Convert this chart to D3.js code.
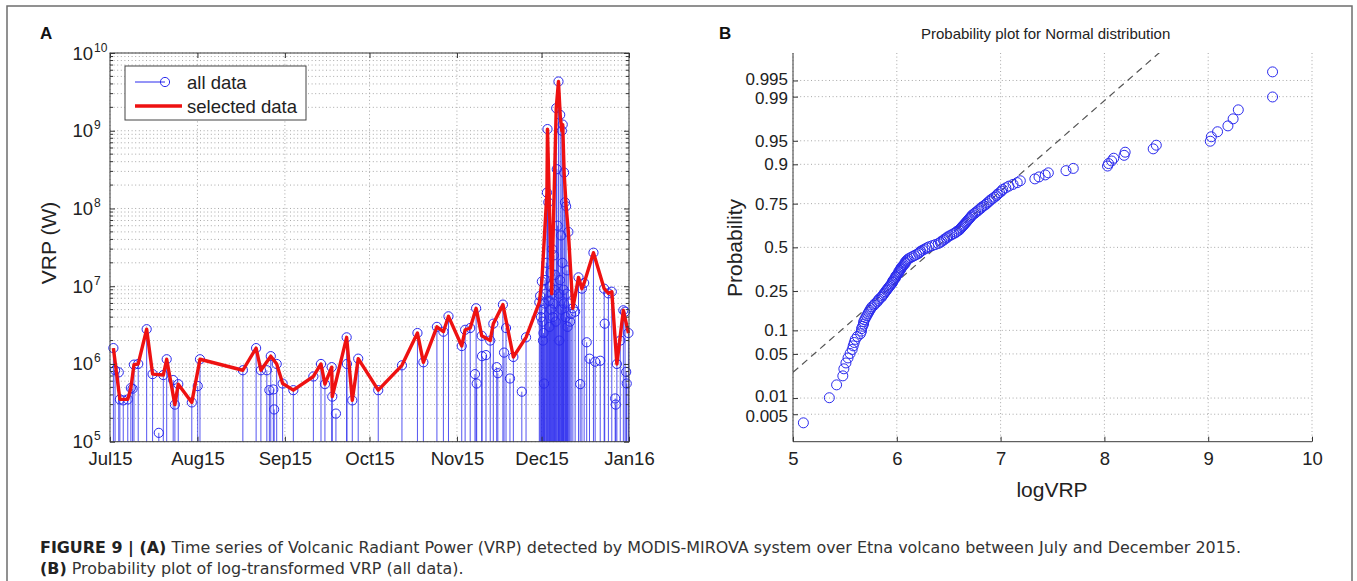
<!DOCTYPE html>
<html>
<head>
<meta charset="utf-8">
<script src="https://cdn.jsdelivr.net/npm/d3@7"></script>
<style>
    body { margin: 0; background: #fff; }
    svg { display: block; font-family: "Liberation Sans", Arial, Helvetica, sans-serif; }
</style>
</head>
<body>
<svg id="fig" width="1357" height="581"></svg>
<script>

/* * * * * * * * * * * * * *
*          DATA            *
* * * * * * * * * * * * * */

// panel A - every MODIS detection, days after 1 Jul 2015
const allDay = [
    1.2, 1.8, 3.1, 3.5, 4.7, 6.3, 7.4, 8.0, 8.5, 10.0,
    13.0, 15.1, 17.3, 18.9, 20.1, 22.4, 23.0, 24.2, 29.0, 31.1,
    31.9, 47.1, 51.8, 53.5, 55.6, 56.5, 57.0, 57.9, 58.2, 59.1,
    61.2, 65.0, 72.1, 74.8, 76.2, 78.6, 78.8, 80.1, 83.9, 84.0,
    85.9, 88.0, 95.1, 103.5, 109.0, 111.1, 115.9, 118.2, 120.0, 124.7,
    125.9, 127.7, 129.4, 129.8, 130.0, 131.8, 131.9, 133.3, 134.8, 135.9,
    137.1, 137.5, 139.3, 139.7, 140.4, 141.8, 143.0, 146.0, 147.5, 152.2,
    152.5, 152.8, 152.9, 153.1, 153.3, 153.5, 153.7, 153.9, 154.0, 154.2,
    154.5, 154.7, 154.9, 155.1, 155.4, 155.6, 155.8, 156.0, 156.2, 156.4,
    156.6, 156.8, 157.0, 157.2, 157.4, 157.6, 157.8, 158.0, 158.2, 158.4,
    158.7, 159.0, 159.1, 159.3, 159.5, 159.6, 159.9, 160.0, 160.2, 160.4,
    160.5, 160.8, 160.9, 161.0, 161.3, 161.5, 161.7, 161.9, 162.0, 162.2,
    162.5, 162.8, 163.1, 163.5, 164.1, 164.9, 166.1, 166.7, 167.3, 168.1,
    169.0, 170.0, 171.4, 172.0, 173.8, 175.2, 175.4, 176.7, 177.9, 179.1,
    179.3, 179.7, 180.9, 182.0, 182.6, 183.0, 183.2, 183.8
];

// VRP in W for each detection
const allVRP = [
    1.6e6, 8.3e5, 7.8e5, 3.5e5, 3.4e5, 3.5e5, 4.9e5, 4.8e5, 9.8e5, 1.0e6,
    2.8e6, 7.4e5, 1.3e5, 7.2e5, 1.15e6, 6.2e5, 3.0e5, 5.5e5, 3.2e5, 5.2e5,
    1.15e6, 8.3e5, 1.6e6, 8.3e5, 8.3e5, 4.6e5, 1.26e6, 4.7e5, 2.6e5, 1.0e6,
    5.6e5, 4.6e5, 6.9e5, 1.0e6, 5.5e5, 9.1e5, 3.8e5, 2.3e5, 2.2e6, 1.0e6,
    3.4e5, 1.17e6, 4.6e5, 9.6e5, 2.5e6, 1.05e6, 3.0e6, 2.6e6, 4.1e6, 1.7e6,
    2.75e6, 2.9e6, 7.4e5, 5.2e6, 5.6e5, 2.3e6, 1.26e6, 1.3e6, 2.0e6, 3.3e6,
    9.1e5, 7.6e5, 5.8e6, 1.4e6, 2.9e6, 6.5e5, 1.23e6, 4.4e5, 2.2e6, 6.2e6,
    7.5e6, 4.0e6, 5.0e6, 1.15e7, 3.5e6, 2.0e6, 2.5e6, 5.6e5, 6.0e6, 1.2e7,
    8.0e6, 2.0e7, 1.6e8, 1.05e9, 1.2e8, 6.5e6, 3.0e6, 1.0e7, 1.5e7, 5.0e6,
    8.0e6, 3.0e7, 4.0e6, 6.0e6, 2.5e7, 9.0e6, 1.4e7, 3.5e6, 1.95e9, 3.2e8,
    6.0e7, 4.3e9, 8.0e6, 2.0e6, 1.2e7, 1.6e9, 4.5e7, 5.0e6, 1.0e9, 2.0e7,
    1.2e9, 9.0e6, 6.0e6, 2.9e8, 1.2e8, 4.0e6, 1.07e8, 8.0e6, 1.6e7, 3.0e6,
    5.0e7, 6.0e6, 3.5e6, 4.4e6, 5.2e6, 4.7e6, 1.3e7, 5.5e5, 9.3e6, 1.1e7,
    1.9e6, 1.17e6, 2.7e7, 1.07e6, 1.1e6, 9.3e6, 3.3e6, 8.1e6, 8.5e6, 3.6e5,
    3.0e5, 1.0e6, 2.0e6, 4.9e6, 4.7e6, 7.9e5, 5.6e5, 2.5e6
];

// 1 = part of the "selected data" series
const allSel = [
    1, 0, 0, 1, 0, 1, 1, 0, 1, 1,
    1, 1, 0, 1, 1, 0, 1, 1, 1, 0,
    1, 1, 1, 1, 0, 0, 1, 0, 0, 1,
    1, 1, 1, 1, 1, 1, 1, 0, 1, 0,
    1, 1, 1, 1, 1, 1, 1, 1, 1, 1,
    1, 1, 0, 1, 0, 1, 0, 0, 1, 1,
    0, 0, 1, 0, 0, 0, 1, 0, 1, 1,
    0, 0, 0, 1, 0, 0, 0, 0, 0, 0,
    0, 0, 1, 1, 0, 0, 0, 0, 0, 0,
    1, 0, 0, 0, 0, 0, 0, 0, 1, 0,
    0, 1, 0, 0, 0, 1, 0, 0, 1, 0,
    1, 0, 0, 1, 0, 0, 1, 0, 0, 0,
    1, 0, 0, 0, 1, 0, 1, 0, 1, 1,
    0, 0, 1, 0, 0, 1, 0, 1, 1, 0,
    0, 1, 0, 1, 0, 0, 0, 1
];

const monthTicks = ["2015-07-01", "2015-08-01", "2015-09-01", "2015-10-01", "2015-11-01", "2015-12-01", "2016-01-01"];
const vrpTicks = [1e5, 1e6, 1e7, 1e8, 1e9, 1e10];

// panel B - sorted log10(VRP), all data
const logVRP = [
    5.10, 5.35, 5.42, 5.48, 5.49, 5.51, 5.53, 5.55, 5.57, 5.58,
    5.59, 5.60, 5.62, 5.65, 5.66, 5.66, 5.67, 5.68, 5.68, 5.69,
    5.70, 5.71, 5.72, 5.73, 5.74, 5.75, 5.76, 5.78, 5.79, 5.81,
    5.82, 5.83, 5.85, 5.86, 5.87, 5.88, 5.89, 5.90, 5.91, 5.92,
    5.93, 5.94, 5.95, 5.96, 5.96, 5.97, 5.98, 5.99, 5.99, 6.00,
    6.01, 6.02, 6.02, 6.03, 6.04, 6.04, 6.05, 6.06, 6.07, 6.08,
    6.08, 6.09, 6.10, 6.11, 6.13, 6.15, 6.17, 6.19, 6.21, 6.22,
    6.23, 6.25, 6.27, 6.29, 6.31, 6.34, 6.37, 6.40, 6.42, 6.43,
    6.45, 6.46, 6.48, 6.49, 6.51, 6.53, 6.55, 6.57, 6.58, 6.60,
    6.61, 6.62, 6.63, 6.64, 6.65, 6.66, 6.67, 6.68, 6.69, 6.70,
    6.71, 6.72, 6.73, 6.75, 6.76, 6.78, 6.79, 6.81, 6.82, 6.84,
    6.86, 6.87, 6.89, 6.90, 6.92, 6.94, 6.96, 6.97, 6.99, 7.01,
    7.02, 7.05, 7.08, 7.12, 7.16, 7.19, 7.33, 7.37, 7.43, 7.46,
    7.63, 7.70, 8.03, 8.04, 8.07, 8.09, 8.19, 8.20, 8.47, 8.50,
    9.02, 9.03, 9.09, 9.19, 9.24, 9.29, 9.62, 9.62
];

const probTicks = [0.005, 0.01, 0.05, 0.1, 0.25, 0.5, 0.75, 0.9, 0.95, 0.99, 0.995];
const probLabels = ["0.005", "0.01", "0.05", "0.1", "0.25", "0.5", "0.75", "0.9", "0.95", "0.99", "0.995"];
const logTicks = [5, 6, 7, 8, 9, 10];


/* * * * * * * * * * * * * *
*         HELPERS          *
* * * * * * * * * * * * * */

// inverse normal cdf (Acklam), used for the probability axis
function norminv(p) {
    const a = [-3.969683028665376e+01, 2.209460984245205e+02, -2.759285104469687e+02, 1.383577518672690e+02, -3.066479806614716e+01, 2.506628277459239e+00];
    const b = [-5.447609879822406e+01, 1.615858368580409e+02, -1.556989798598866e+02, 6.680131188771972e+01, -1.328068155288572e+01];
    const c = [-7.784894002430293e-03, -3.223964580411365e-01, -2.400758277161838e+00, -2.549732539343734e+00, 4.374664141464968e+00, 2.938163982698783e+00];
    const d = [7.784695709041462e-03, 3.224671290700398e-01, 2.445134137142996e+00, 3.754408661907416e+00];
    let q, r;
    if (p < 0.02425) {
        q = Math.sqrt(-2 * Math.log(p));
        return (((((c[0]*q+c[1])*q+c[2])*q+c[3])*q+c[4])*q+c[5]) / ((((d[0]*q+d[1])*q+d[2])*q+d[3])*q+1);
    }
    if (p <= 1 - 0.02425) {
        q = p - 0.5; r = q * q;
        return (((((a[0]*r+a[1])*r+a[2])*r+a[3])*r+a[4])*r+a[5])*q / (((((b[0]*r+b[1])*r+b[2])*r+b[3])*r+b[4])*r+1);
    }
    q = Math.sqrt(-2 * Math.log(1 - p));
    return -(((((c[0]*q+c[1])*q+c[2])*q+c[3])*q+c[4])*q+c[5]) / ((((d[0]*q+d[1])*q+d[2])*q+d[3])*q+1);
}

function styleAxis(g, size) {
    g.attr("font-family", null).attr("font-size", null);
    g.select(".domain").remove();
    g.selectAll(".tick line").attr("stroke", "#333");
    g.selectAll(".tick text").attr("fill", "#222").style("font-size", size + "px");
}

const gridColor = "#a8a8a8";
const gridDash = "1,2.6";
const blue = "#2a2aee";

const svg = d3.select("#fig");

// outer frame of the figure
svg.append("rect")
    .attr("x", 7).attr("y", 6)
    .attr("width", 1345).attr("height", 640)
    .attr("fill", "none")
    .attr("stroke", "#6e6e6e")
    .attr("stroke-width", 1.5);


/* * * * * * * * * * * * * *
*         PANEL A          *
* * * * * * * * * * * * * */

const A = {left: 110, right: 629, top: 53, bottom: 441.7};
const t0 = new Date(2015, 6, 1);
const parseDay = d3.timeParse("%Y-%m-%d");

const xA = d3.scaleTime()
    .domain([parseDay(monthTicks[0]), parseDay(monthTicks[monthTicks.length - 1])])
    .range([A.left, A.right]);

const yA = d3.scaleLog()
    .domain([vrpTicks[0], vrpTicks[vrpTicks.length - 1]])
    .range([A.bottom, A.top]);

const pointsA = allDay.map((d, i) => ({
    date: new Date(t0.getTime() + d * 864e5),
    vrp: allVRP[i],
    sel: allSel[i] === 1
}));

const gA = svg.append("g");

// grid (major + minor decades, months)
let minorA = [];
d3.range(5, 10).forEach(k => d3.range(2, 10).forEach(m => minorA.push(m * Math.pow(10, k))));

gA.selectAll(".hgrid")
    .data(vrpTicks.concat(minorA))
    .enter().append("line")
    .attr("x1", A.left).attr("x2", A.right)
    .attr("y1", d => yA(d)).attr("y2", d => yA(d))
    .attr("stroke", gridColor).attr("stroke-dasharray", gridDash);

gA.selectAll(".vgrid")
    .data(monthTicks.map(parseDay))
    .enter().append("line")
    .attr("x1", d => xA(d)).attr("x2", d => xA(d))
    .attr("y1", A.top).attr("y2", A.bottom)
    .attr("stroke", gridColor).attr("stroke-dasharray", gridDash);

// stems + circles (all data)
gA.selectAll(".stem")
    .data(pointsA)
    .enter().append("line")
    .attr("x1", d => xA(d.date)).attr("x2", d => xA(d.date))
    .attr("y1", yA(vrpTicks[0])).attr("y2", d => yA(d.vrp))
    .attr("stroke", blue).attr("stroke-width", 1).attr("stroke-opacity", 0.8);

gA.selectAll(".dot")
    .data(pointsA)
    .enter().append("circle")
    .attr("cx", d => xA(d.date)).attr("cy", d => yA(d.vrp))
    .attr("r", 4.6)
    .attr("fill", "none").attr("stroke", blue).attr("stroke-width", 1);

// selected data
const lineA = d3.line()
    .x(d => xA(d.date))
    .y(d => yA(d.vrp));

gA.append("path")
    .datum(pointsA.filter(d => d.sel))
    .attr("d", lineA)
    .attr("fill", "none")
    .attr("stroke", "#ee1111")
    .attr("stroke-width", 3.4)
    .attr("stroke-linejoin", "round");

// axes (ticks inside, box around)
gA.append("g")
    .attr("transform", `translate(0,${A.bottom})`)
    .call(d3.axisBottom(xA).tickValues(monthTicks.map(parseDay))
        .tickFormat(d3.timeFormat("%b%y")).tickSizeInner(-5).tickSizeOuter(0).tickPadding(10.5))
    .call(g => styleAxis(g, 18.5));

gA.append("g")
    .attr("transform", `translate(0,${A.top})`)
    .call(d3.axisTop(xA).tickValues(monthTicks.map(parseDay)).tickFormat("").tickSizeInner(-5).tickSizeOuter(0))
    .call(g => styleAxis(g, 18.5));

gA.append("g")
    .attr("transform", `translate(${A.left},0)`)
    .call(d3.axisLeft(yA).tickValues(vrpTicks).tickFormat("").tickSizeInner(-5).tickSizeOuter(0))
    .call(g => styleAxis(g, 18.5));

gA.append("g")
    .attr("transform", `translate(${A.right},0)`)
    .call(d3.axisRight(yA).tickValues(vrpTicks).tickFormat("").tickSizeInner(-5).tickSizeOuter(0))
    .call(g => styleAxis(g, 18.5));

// minor ticks, both sides
[[A.left, 3], [A.right, -3]].forEach(([x, len]) => {
    gA.selectAll(null)
        .data(minorA)
        .enter().append("line")
        .attr("x1", x).attr("x2", x + len)
        .attr("y1", d => yA(d)).attr("y2", d => yA(d))
        .attr("stroke", "#333");
});

gA.append("rect")
    .attr("x", A.left).attr("y", A.top)
    .attr("width", A.right - A.left).attr("height", A.bottom - A.top)
    .attr("fill", "none").attr("stroke", "#3a3a3a").attr("stroke-width", 1);

// y tick labels as 10^k
const yLab = gA.selectAll(".ylab")
    .data(vrpTicks)
    .enter().append("g");

yLab.append("text")
    .attr("x", 93).attr("y", d => yA(d) + 6.5)
    .attr("text-anchor", "end")
    .attr("fill", "#222")
    .style("font-size", "18.5px")
    .text("10");

yLab.append("text")
    .attr("x", 94).attr("y", d => yA(d) - 1.5)
    .attr("fill", "#222")
    .style("font-size", "12px")
    .text(d => Math.round(Math.log10(d)));

// y label
gA.append("text")
    .attr("transform", "translate(56,243) rotate(-90)")
    .attr("text-anchor", "middle")
    .attr("fill", "#222")
    .style("font-size", "21px")
    .text("VRP (W)");

// legend
const leg = gA.append("g");
leg.append("rect")
    .attr("x", 125).attr("y", 66).attr("width", 181).attr("height", 54)
    .attr("fill", "#fff").attr("stroke", "#444").attr("stroke-width", 1);
leg.append("line")
    .attr("x1", 135).attr("x2", 165).attr("y1", 82).attr("y2", 82)
    .attr("stroke", blue).attr("stroke-width", 1);
leg.append("circle")
    .attr("cx", 165).attr("cy", 82).attr("r", 4.6)
    .attr("fill", "none").attr("stroke", blue);
leg.append("line")
    .attr("x1", 135).attr("x2", 182).attr("y1", 106).attr("y2", 106)
    .attr("stroke", "#ee1111").attr("stroke-width", 3.4);
leg.append("text")
    .attr("x", 187).attr("y", 88.5)
    .attr("fill", "#222").style("font-size", "18.5px")
    .text("all data");
leg.append("text")
    .attr("x", 187).attr("y", 112.5)
    .attr("fill", "#222").style("font-size", "18.5px")
    .text("selected data");

svg.append("text")
    .attr("x", 40).attr("y", 38.5)
    .attr("font-weight", "bold").attr("fill", "#111")
    .style("font-size", "17px")
    .text("A");


/* * * * * * * * * * * * * *
*         PANEL B          *
* * * * * * * * * * * * * */

const B = {left: 793, right: 1312, top: 53, bottom: 441.7};

const xB = d3.scaleLinear()
    .domain([logTicks[0], logTicks[logTicks.length - 1]])
    .range([B.left, B.right]);

const yB = d3.scaleLinear()
    .domain([-3, 3])
    .range([B.bottom, B.top]);

const n = logVRP.length;
const pointsB = logVRP.map((v, i) => ({v: v, z: norminv((i + 0.5) / n)}));

const gB = svg.append("g");

svg.append("clipPath").attr("id", "clipB")
    .append("rect")
    .attr("x", B.left).attr("y", B.top)
    .attr("width", B.right - B.left).attr("height", B.bottom - B.top);

// grid
gB.selectAll(".hgrid")
    .data(probTicks)
    .enter().append("line")
    .attr("x1", B.left).attr("x2", B.right)
    .attr("y1", d => yB(norminv(d))).attr("y2", d => yB(norminv(d)))
    .attr("stroke", gridColor).attr("stroke-dasharray", gridDash);

gB.selectAll(".vgrid")
    .data(logTicks)
    .enter().append("line")
    .attr("x1", d => xB(d)).attr("x2", d => xB(d))
    .attr("y1", B.top).attr("y2", B.bottom)
    .attr("stroke", gridColor).attr("stroke-dasharray", gridDash);

// reference line through the quartiles
const q1 = d3.quantile(logVRP, 0.25);
const q3 = d3.quantile(logVRP, 0.75);
const slope = (norminv(0.75) - norminv(0.25)) / (q3 - q1);
const refLine = xB.domain().map(v => ({v: v, z: norminv(0.25) + slope * (v - q1)}));

gB.append("path")
    .datum(refLine)
    .attr("clip-path", "url(#clipB)")
    .attr("d", d3.line().x(d => xB(d.v)).y(d => yB(d.z)))
    .attr("fill", "none")
    .attr("stroke", "#555")
    .attr("stroke-width", 1.2)
    .attr("stroke-dasharray", "7,5");

// data circles
gB.selectAll(".pt")
    .data(pointsB)
    .enter().append("circle")
    .attr("cx", d => xB(d.v)).attr("cy", d => yB(d.z))
    .attr("r", 5)
    .attr("fill", "none").attr("stroke", blue).attr("stroke-width", 1);

// axes
gB.append("g")
    .attr("transform", `translate(0,${B.bottom})`)
    .call(d3.axisBottom(xB).tickValues(logTicks).tickFormat(d3.format("d"))
        .tickSizeInner(-5).tickSizeOuter(0).tickPadding(10.5))
    .call(g => styleAxis(g, 18.5));

gB.append("g")
    .attr("transform", `translate(${B.left},0)`)
    .call(d3.axisLeft(yB).tickValues(probTicks.map(norminv))
        .tickFormat((d, i) => probLabels[i]).tickSizeInner(-5).tickSizeOuter(0).tickPadding(5))
    .call(g => styleAxis(g, 17))
    // the two pairs of close ticks at each end: nudge their labels apart a little
    .call(g => g.selectAll(".tick text")
        .attr("y", (d, i) => ({0: 1.7, 1: -1.7, 9: 1.7, 10: -1.7})[i] || 0));

gB.append("line")
    .attr("x1", B.left).attr("x2", B.right).attr("y1", B.bottom).attr("y2", B.bottom)
    .attr("stroke", "#3a3a3a");
gB.append("line")
    .attr("x1", B.left).attr("x2", B.left).attr("y1", B.top).attr("y2", B.bottom)
    .attr("stroke", "#3a3a3a");

// labels
gB.append("text")
    .attr("x", 1052).attr("y", 497)
    .attr("text-anchor", "middle")
    .attr("fill", "#222").style("font-size", "21px")
    .text("logVRP");

gB.append("text")
    .attr("transform", "translate(742,248) rotate(-90)")
    .attr("text-anchor", "middle")
    .attr("fill", "#222").style("font-size", "21px")
    .text("Probability");

gB.append("text")
    .attr("x", 921).attr("y", 39)
    .attr("fill", "#222").style("font-size", "15px")
    .text("Probability plot for Normal distribution");

svg.append("text")
    .attr("x", 719).attr("y", 38.5)
    .attr("font-weight", "bold").attr("fill", "#111")
    .style("font-size", "17px")
    .text("B");


/* * * * * * * * * * * * * *
*         CAPTION          *
* * * * * * * * * * * * * */

const capFont = "'Liberation Sans Narrow', 'DejaVu Sans Condensed', 'Liberation Sans', sans-serif";

const cap1 = svg.append("text")
    .attr("x", 40).attr("y", 553)
    .attr("fill", "#333")
    .style("font-family", capFont).style("font-size", "15px");
cap1.append("tspan").attr("font-weight", "bold").attr("fill", "#222").text("FIGURE 9 | (A)");
cap1.append("tspan").text(" Time series of Volcanic Radiant Power (VRP) detected by MODIS-MIROVA system over Etna volcano between July and December 2015.");

const cap2 = svg.append("text")
    .attr("x", 40).attr("y", 574)
    .attr("fill", "#333")
    .style("font-family", capFont).style("font-size", "15px");
cap2.append("tspan").attr("font-weight", "bold").attr("fill", "#222").text("(B)");
cap2.append("tspan").text(" Probability plot of log-transformed VRP (all data).");

// squeeze both caption lines by the same factor so line 1 spans the figure width
const capScale = 1201 / cap1.node().getComputedTextLength();
cap2.attr("textLength", cap2.node().getComputedTextLength() * capScale).attr("lengthAdjust", "spacingAndGlyphs");
cap1.attr("textLength", 1201).attr("lengthAdjust", "spacingAndGlyphs");

</script>
</body>
</html>
